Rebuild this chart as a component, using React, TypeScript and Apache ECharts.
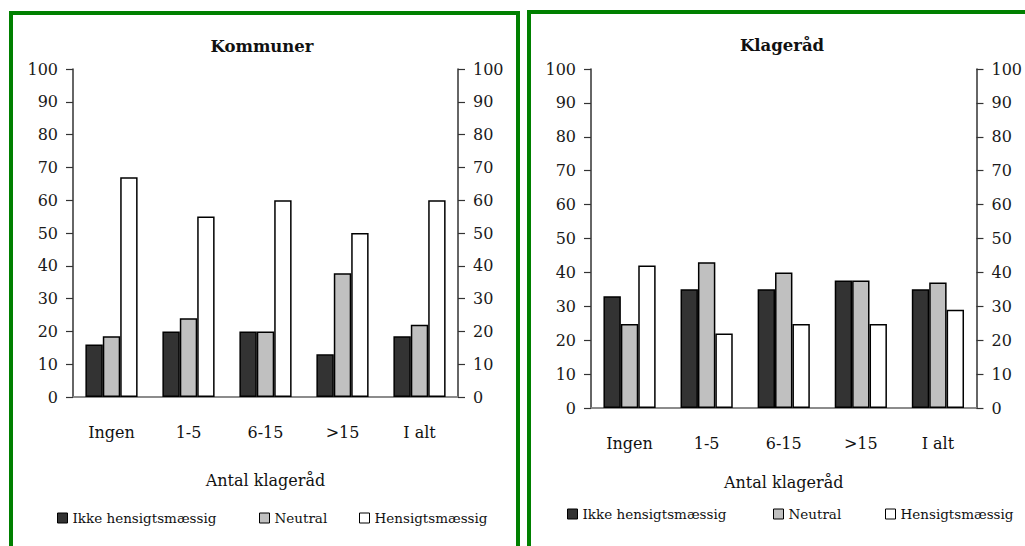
import React, { useEffect, useRef } from "react";
import * as echarts from "echarts";

const categories = ["Ingen", "1-5", "6-15", ">15", "I alt"];
const seriesNames = ["Ikke hensigtsmæssig", "Neutral", "Hensigtsmæssig"];
const kommunerIkke = [16, 20, 20, 13, 18.5];
const kommunerNeutral = [18.5, 24, 20, 37.7, 22];
const kommunerHensigt = [67, 55, 60, 50, 60];
const klageIkke = [33, 35, 35, 37.6, 35];
const klageNeutral = [24.8, 43, 40, 37.6, 37];
const klageHensigt = [42, 22, 24.8, 24.8, 29];
const yTicks = { min: 0, max: 100, interval: 10 };
const titles = ["Kommuner", "Klageråd"];
const axisName = "Antal klageråd";

const FONT = "DejaVu Serif";
const fills = ["#333333", "#c0c0c0", "#ffffff"];

export default function App() {
  const ref = useRef<HTMLDivElement>(null);
  useEffect(() => {
    if (!ref.current) return;
    const chart = echarts.init(ref.current, undefined, { renderer: "svg" });

    const xAxes: any[] = [];
    const yAxes: any[] = [];
    const gaps = [75, 66];
    [0, 1].forEach((g) => {
      xAxes.push({
        gridIndex: g,
        type: "category",
        data: categories,
        position: "bottom",
        axisLine: { lineStyle: { color: "#333", width: 1.5 } },
        axisTick: { length: 5, lineStyle: { color: "#333", width: 1.2 } },
        axisLabel: { fontSize: 16, color: "#111", margin: 27, fontFamily: FONT },
        name: axisName,
        nameLocation: "middle",
        nameGap: gaps[g],
        nameTextStyle: { fontSize: 16, color: "#111", fontFamily: FONT },
      });
      xAxes.push({
        gridIndex: g,
        type: "category",
        data: categories,
        position: "top",
        axisLine: { lineStyle: { color: "#999", width: 1.5 } },
        axisTick: { show: false },
        axisLabel: { show: false },
      });
      ["left", "right"].forEach((pos) => {
        yAxes.push({
          gridIndex: g,
          type: "value",
          position: pos,
          min: yTicks.min,
          max: yTicks.max,
          interval: yTicks.interval,
          splitLine: { show: false },
          axisLine: { show: true, lineStyle: { color: "#333", width: 1.5 } },
          axisTick: { show: true, length: 7, lineStyle: { color: "#333", width: 1.2 } },
          axisLabel: { fontSize: 16, color: "#1a1a1a", margin: 15, fontFamily: FONT },
        });
      });
    });

    const data = [
      [kommunerIkke, kommunerNeutral, kommunerHensigt],
      [klageIkke, klageNeutral, klageHensigt],
    ];
    const series: any[] = [];
    [0, 1].forEach((g) => {
      seriesNames.forEach((name, i) => {
        series.push({
          type: "bar",
          name,
          xAxisIndex: g * 2,
          yAxisIndex: g * 2,
          data: data[g][i],
          barWidth: 17.4,
          barGap: "0%",
          itemStyle: { color: fills[i], borderColor: "#000", borderWidth: 1.5 },
        });
      });
    });

    const legendLefts = [
      [57, 259, 359],
      [567, 773, 885],
    ];
    const legendTops = [511, 507];
    const legends: any[] = [];
    [0, 1].forEach((g) => {
      seriesNames.forEach((name, i) => {
        legends.push({
          data: [name],
          left: legendLefts[g][i],
          top: legendTops[g],
          padding: 0,
          itemWidth: 10,
          itemHeight: 10,
          icon: "rect",
          selectedMode: false,
          itemStyle: { borderColor: "#000", borderWidth: 1 },
          textStyle: { fontSize: 13.5, color: "#111", fontFamily: FONT },
        });
      });
    });

    chart.setOption({
      animation: false,
      textStyle: { fontFamily: FONT },
      title: [
        {
          text: titles[0],
          left: 262,
          top: 38,
          padding: 0,
          textAlign: "center",
          textStyle: { fontSize: 16.5, fontWeight: "bold", color: "#111", fontFamily: FONT },
        },
        {
          text: titles[1],
          left: 782,
          top: 37,
          padding: 0,
          textAlign: "center",
          textStyle: { fontSize: 16.5, fontWeight: "bold", color: "#111", fontFamily: FONT },
        },
      ],
      graphic: [
        {
          type: "rect",
          shape: { x: 11, y: 13, width: 507, height: 600 },
          style: { fill: "none", stroke: "#008000", lineWidth: 4 },
          silent: true,
        },
        {
          type: "rect",
          shape: { x: 529, y: 12, width: 600, height: 600 },
          style: { fill: "none", stroke: "#008000", lineWidth: 4 },
          silent: true,
        },
      ],
      legend: legends,
      grid: [
        { left: 73, top: 69, width: 385, height: 328 },
        { left: 591, top: 69, width: 386, height: 339 },
      ],
      xAxis: xAxes,
      yAxis: yAxes,
      series,
    });
    return () => chart.dispose();
  }, []);
  return (
    <div
      ref={ref}
      style={{ position: "absolute", left: 0, top: 0, width: 1025, height: 546, background: "#fff" }}
    />
  );
}
